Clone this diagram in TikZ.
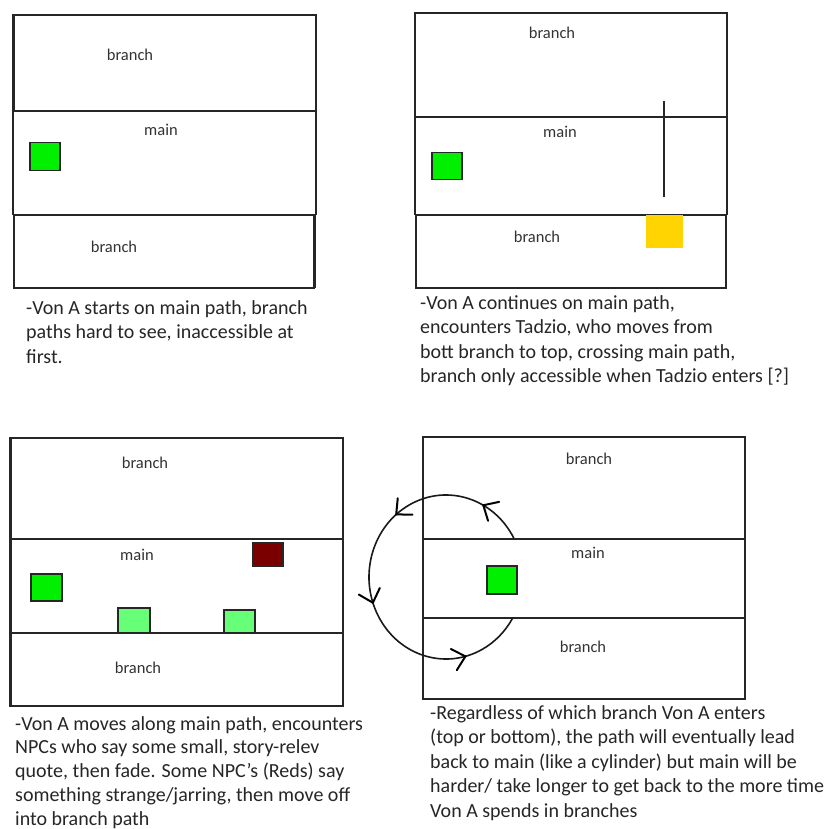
\documentclass[tikz,border=0pt]{standalone}
\usepackage{fontspec}
\setmainfont{Carlito}
\usetikzlibrary{arrows.meta,decorations.markings}
\definecolor{vongreen}{HTML}{00F000}
\definecolor{npcgreen}{HTML}{66FF77}
\definecolor{npcred}{HTML}{7A0000}
\definecolor{tadzio}{HTML}{FFD400}
\begin{document}
\begin{tikzpicture}[x=1pt,y=-1pt,
  band/.style={line width=1.6pt, draw=black!85},
  heavy/.style={line width=3pt, draw=black!85},
  lbl/.style={font=\fontsize{16.5}{20}\selectfont, text=black!80, inner sep=0pt},
  notetext/.style={font=\fontsize{20}{24.5}\selectfont, text=black!85, align=left, anchor=north west, inner sep=0pt},
  sq/.style={draw=black!85, line width=1.5pt, anchor=north west, inner sep=0pt},
  chevron/.code={\draw[line width=2pt, draw=black, line cap=round, line join=miter] (-12pt,11pt) -- (0pt,0pt) -- (-12pt,-11pt);},
  cycle arrow/.style={line width=1.6pt, draw=black!90,
    decoration={markings,
      mark=at position 0.11 with {\tikzset{chevron}},
      mark=at position 0.335 with {\tikzset{chevron}},
      mark=at position 0.566 with {\tikzset{chevron}},
      mark=at position 0.85 with {\tikzset{chevron}}},
    postaction={decorate}},
]
\useasboundingbox[fill=white] (0,0) rectangle (830,829);

% ---------- panel 1: start on the main path ----------
\draw[band] (13,15) rectangle (316,111);
\draw[band] (13,111) -- (13,215) (316,111) -- (316,215);
\draw[band, line width=2pt] (14,215) rectangle (314,288);
\draw[heavy] (13,15) -- (13,111);
\draw[heavy] (314,215) -- (314,288);
\node[lbl] (p1top) at (130,55) {branch};
\node[lbl] (p1main) at (161,130) {main};
\node[lbl] (p1bot) at (114,247) {branch};
\node[sq, fill=vongreen, minimum width=30pt, minimum height=28pt] (p1von) at (29,142) {};
\node[notetext] (p1cap) at (26,300) {-Von A starts on main path, branch\\paths hard to see, inaccessible at\\first.};

% ---------- panel 2: Tadzio crosses the main path ----------
\draw[band, line width=2.6pt] (415,13) rectangle (727,117);
\draw[band] (415,117) -- (415,215) (727,117) -- (727,215);
\draw[band, line width=2pt] (416,215) rectangle (726,288);
\node[lbl] (p2top) at (552,33) {branch};
\node[lbl] (p2main) at (560,132) {main};
\node[lbl] (p2bot) at (537,237) {branch};
\node[sq, fill=vongreen, minimum width=30pt, minimum height=27pt] (p2von) at (431,152) {};
\node[anchor=north west, inner sep=0pt, fill=tadzio, minimum width=37pt, minimum height=33pt] (tadzio) at (646,215) {};
\coordinate (tzlow) at (664,197);
\coordinate (tzhigh) at (664,101);
\draw[line width=1.5pt, draw=black!85] (tzlow) -- (tzhigh);
\node[notetext] (p2cap) at (420,295) {-Von A continues on main path,\\encounters Tadzio, who moves from\\bott branch to top, crossing main path,\\branch only accessible when Tadzio enters [?]};

% ---------- panel 3: NPCs along the main path ----------
\draw[band] (10,438) rectangle (343,706);
\draw[band] (10,539) -- (343,539);
\draw[band] (10,633) -- (343,633);
\draw[heavy] (10,438) -- (10,706);
\draw[band, line width=2.4pt] (10,706) -- (343,706);
\node[lbl] (p3top) at (145,463) {branch};
\node[lbl] (p3main) at (137,555) {main};
\node[lbl] (p3bot) at (138,668) {branch};
\node[sq, fill=vongreen, minimum width=31pt, minimum height=27pt] (p3von) at (30,573) {};
\node[sq, fill=npcgreen, minimum width=32pt, minimum height=25pt] (npcA) at (117,607) {};
\node[sq, fill=npcgreen, minimum width=31pt, minimum height=23pt] (npcB) at (223,609) {};
\node[sq, fill=npcred, minimum width=30pt, minimum height=23pt] (npcred) at (252,542) {};
\node[notetext, font=\fontsize{20}{23.8}\selectfont] (p3cap) at (15,716) {-Von A moves along main path, encounters\\NPCs who say some small, story-relev\\quote, then fade. Some NPC's (Reds) say\\something strange/jarring, then move off\\into branch path};

% ---------- panel 4: branches loop back to main ----------
\draw[band] (423,437) rectangle (745,699);
\draw[band] (423,539) -- (745,539);
\draw[band] (423,618) -- (745,618);
\node[lbl] (p4top) at (589,459) {branch};
\node[lbl] (p4main) at (588,553) {main};
\node[lbl] (p4bot) at (583,647) {branch};
\node[sq, fill=vongreen, minimum width=30pt, minimum height=28pt] (p4von) at (486,565) {};
\coordinate (loopc) at (446,577);
\draw[cycle arrow] ([shift={(-28:77 and 82)}]loopc) arc[start angle=-28, end angle=-330, x radius=77, y radius=82];
\node[notetext] (p4cap) at (430,705) {-Regardless of which branch Von A enters\\(top or bottom), the path will eventually lead\\back to main (like a cylinder) but main will be\\harder/ take longer to get back to the more time\\Von A spends in branches};
\end{tikzpicture}
\end{document}
